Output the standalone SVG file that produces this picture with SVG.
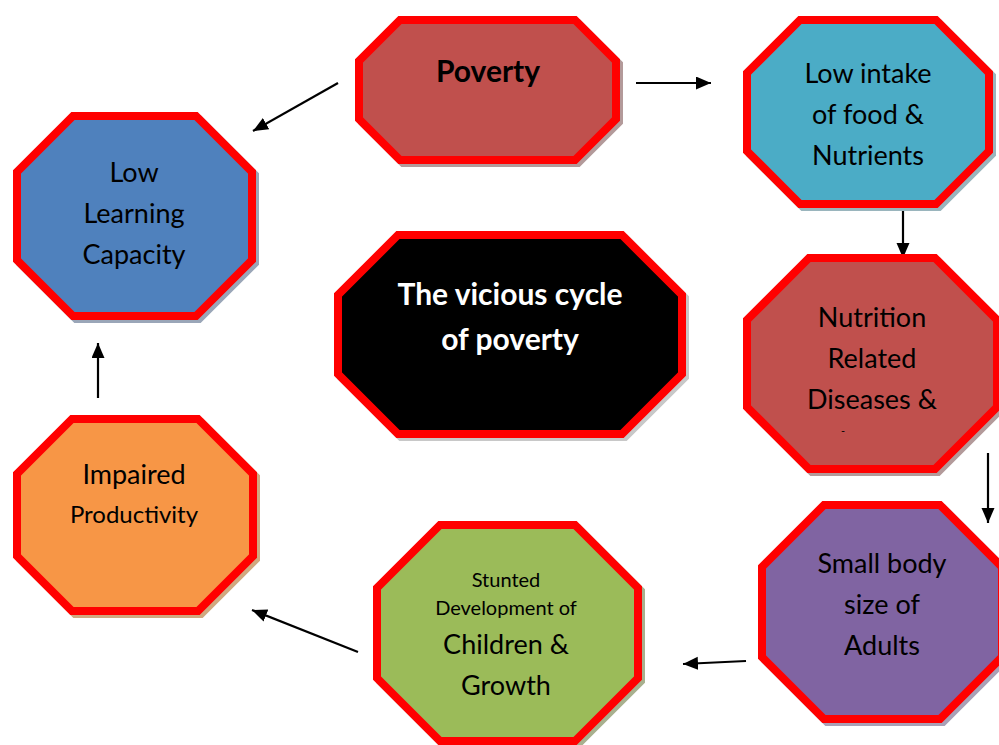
<svg xmlns="http://www.w3.org/2000/svg" width="999" height="745" viewBox="0 0 999 745">
  <defs>
    <marker id="head" markerUnits="userSpaceOnUse" markerWidth="16" markerHeight="14" refX="15" refY="6.5" orient="auto">
      <path d="M0,0 L15,6.5 L0,13 Z" fill="#000"/>
    </marker>
  </defs>
  <style>
    .oct { stroke: #ff0000; stroke-width: 8; stroke-linejoin: miter; }
    .shadow { stroke-width: 8; stroke-linejoin: miter; }
    .lbl { font-family: Lato, "Liberation Sans", sans-serif; font-size: 27px; fill: #000; text-anchor: middle; }
    .bold { font-weight: bold; font-size: 30px; }
    .white { fill: #fff; }
    .small { font-size: 20px; }
    .mid { font-size: 24px; }
    .conn { stroke: #000; stroke-width: 2.2; fill: none; marker-end: url(#head); }
  </style>
  <rect width="999" height="745" fill="#fff"/>

  <!-- connectors -->
  <g id="connectors">
    <line class="conn" x1="338" y1="83" x2="253" y2="131"/>
    <line class="conn" x1="636" y1="83" x2="711" y2="83"/>
    <line class="conn" x1="903" y1="204" x2="903" y2="258"/>
    <line class="conn" x1="988" y1="453" x2="988" y2="523"/>
    <line class="conn" x1="746" y1="661" x2="683" y2="664"/>
    <line class="conn" x1="358" y1="652" x2="252" y2="610"/>
    <line class="conn" x1="98" y1="398" x2="98" y2="343"/>
  </g>

  <!-- Poverty -->
  <g id="poverty">
    <polygon class="shadow" transform="translate(3,3)" fill="#b39a9a" stroke="#b39a9a" points="400,20 575,20 616,61 616,119 575,160 400,160 359,119 359,61"/>
    <polygon class="oct" fill="#c0504d" points="400,20 575,20 616,61 616,119 575,160 400,160 359,119 359,61"/>
    <text class="lbl bold" x="488" y="82">Poverty</text>
  </g>

  <!-- Low intake of food & Nutrients -->
  <g id="low-intake">
    <polygon class="shadow" transform="translate(3,3)" fill="#9ab5bd" stroke="#9ab5bd" points="800,20 936,20 989,73 989,151 936,204 800,204 747,151 747,73"/>
    <polygon class="oct" fill="#4bacc6" points="800,20 936,20 989,73 989,151 936,204 800,204 747,151 747,73"/>
    <text class="lbl" x="868" y="83">Low intake</text>
    <text class="lbl" x="868" y="124">of food &amp;</text>
    <text class="lbl" x="868" y="165">Nutrients</text>
  </g>

  <!-- Low Learning Capacity -->
  <g id="low-learning">
    <polygon class="shadow" transform="translate(3,3)" fill="#9aa6b8" stroke="#9aa6b8" points="73,116 196,116 252,172 252,260 196,316 73,316 17,260 17,172"/>
    <polygon class="oct" fill="#4f81bd" points="73,116 196,116 252,172 252,260 196,316 73,316 17,260 17,172"/>
    <text class="lbl" x="134" y="182">Low</text>
    <text class="lbl" x="134" y="223">Learning</text>
    <text class="lbl" x="134" y="264">Capacity</text>
  </g>

  <!-- The vicious cycle of poverty -->
  <g id="center">
    <polygon class="shadow" transform="translate(3,3)" fill="#c8c8c8" stroke="#c8c8c8" points="398,235 622,235 682,295 682,374 622,434 398,434 338,374 338,295"/>
    <polygon class="oct" fill="#000" points="398,235 622,235 682,295 682,374 622,434 398,434 338,374 338,295"/>
    <text class="lbl bold white" x="510" y="305">The vicious cycle</text>
    <text class="lbl bold white" x="510" y="350">of poverty</text>
  </g>

  <!-- Nutrition Related Diseases -->
  <g id="nutrition">
    <polygon class="shadow" transform="translate(3,3)" fill="#b39a9a" stroke="#b39a9a" points="809,258 935,258 997,320 997,407 935,469 809,469 747,407 747,320"/>
    <polygon class="oct" fill="#c0504d" points="809,258 935,258 997,320 997,407 935,469 809,469 747,407 747,320"/>
    <text class="lbl" x="872" y="327">Nutrition</text>
    <text class="lbl" x="872" y="368">Related</text>
    <text class="lbl" x="872" y="409">Diseases &amp;</text>
    <text class="lbl" x="843" y="435" style="font-size:11px">-</text>
  </g>

  <!-- Small body size of Adults -->
  <g id="small-body">
    <polygon class="shadow" transform="translate(3,3)" fill="#a9a0b6" stroke="#a9a0b6" points="824,505 940,505 1002,567 1002,657 940,719 824,719 762,657 762,567"/>
    <polygon class="oct" fill="#8064a2" points="824,505 940,505 1002,567 1002,657 940,719 824,719 762,657 762,567"/>
    <text class="lbl" x="882" y="573">Small body</text>
    <text class="lbl" x="882" y="614">size of</text>
    <text class="lbl" x="882" y="655">Adults</text>
  </g>

  <!-- Stunted Development of Children & Growth -->
  <g id="stunted">
    <polygon class="shadow" transform="translate(3,3)" fill="#a8b08e" stroke="#a8b08e" points="440,525 575,525 638,588 638,678 575,741 440,741 377,678 377,588"/>
    <polygon class="oct" fill="#9bbb59" points="440,525 575,525 638,588 638,678 575,741 440,741 377,678 377,588"/>
    <text class="lbl small" x="506" y="587">Stunted</text>
    <text class="lbl small" x="506" y="615">Development of</text>
    <text class="lbl" x="506" y="654">Children &amp;</text>
    <text class="lbl" x="506" y="695">Growth</text>
  </g>

  <!-- Impaired Productivity -->
  <g id="impaired">
    <polygon class="shadow" transform="translate(3,3)" fill="#d0a880" stroke="#d0a880" points="72,419 198,419 253,474 253,556 198,611 72,611 17,556 17,474"/>
    <polygon class="oct" fill="#f79646" points="72,419 198,419 253,474 253,556 198,611 72,611 17,556 17,474"/>
    <text class="lbl" x="134" y="484">Impaired</text>
    <text class="lbl mid" x="134" y="523">Productivity</text>
  </g>
</svg>
